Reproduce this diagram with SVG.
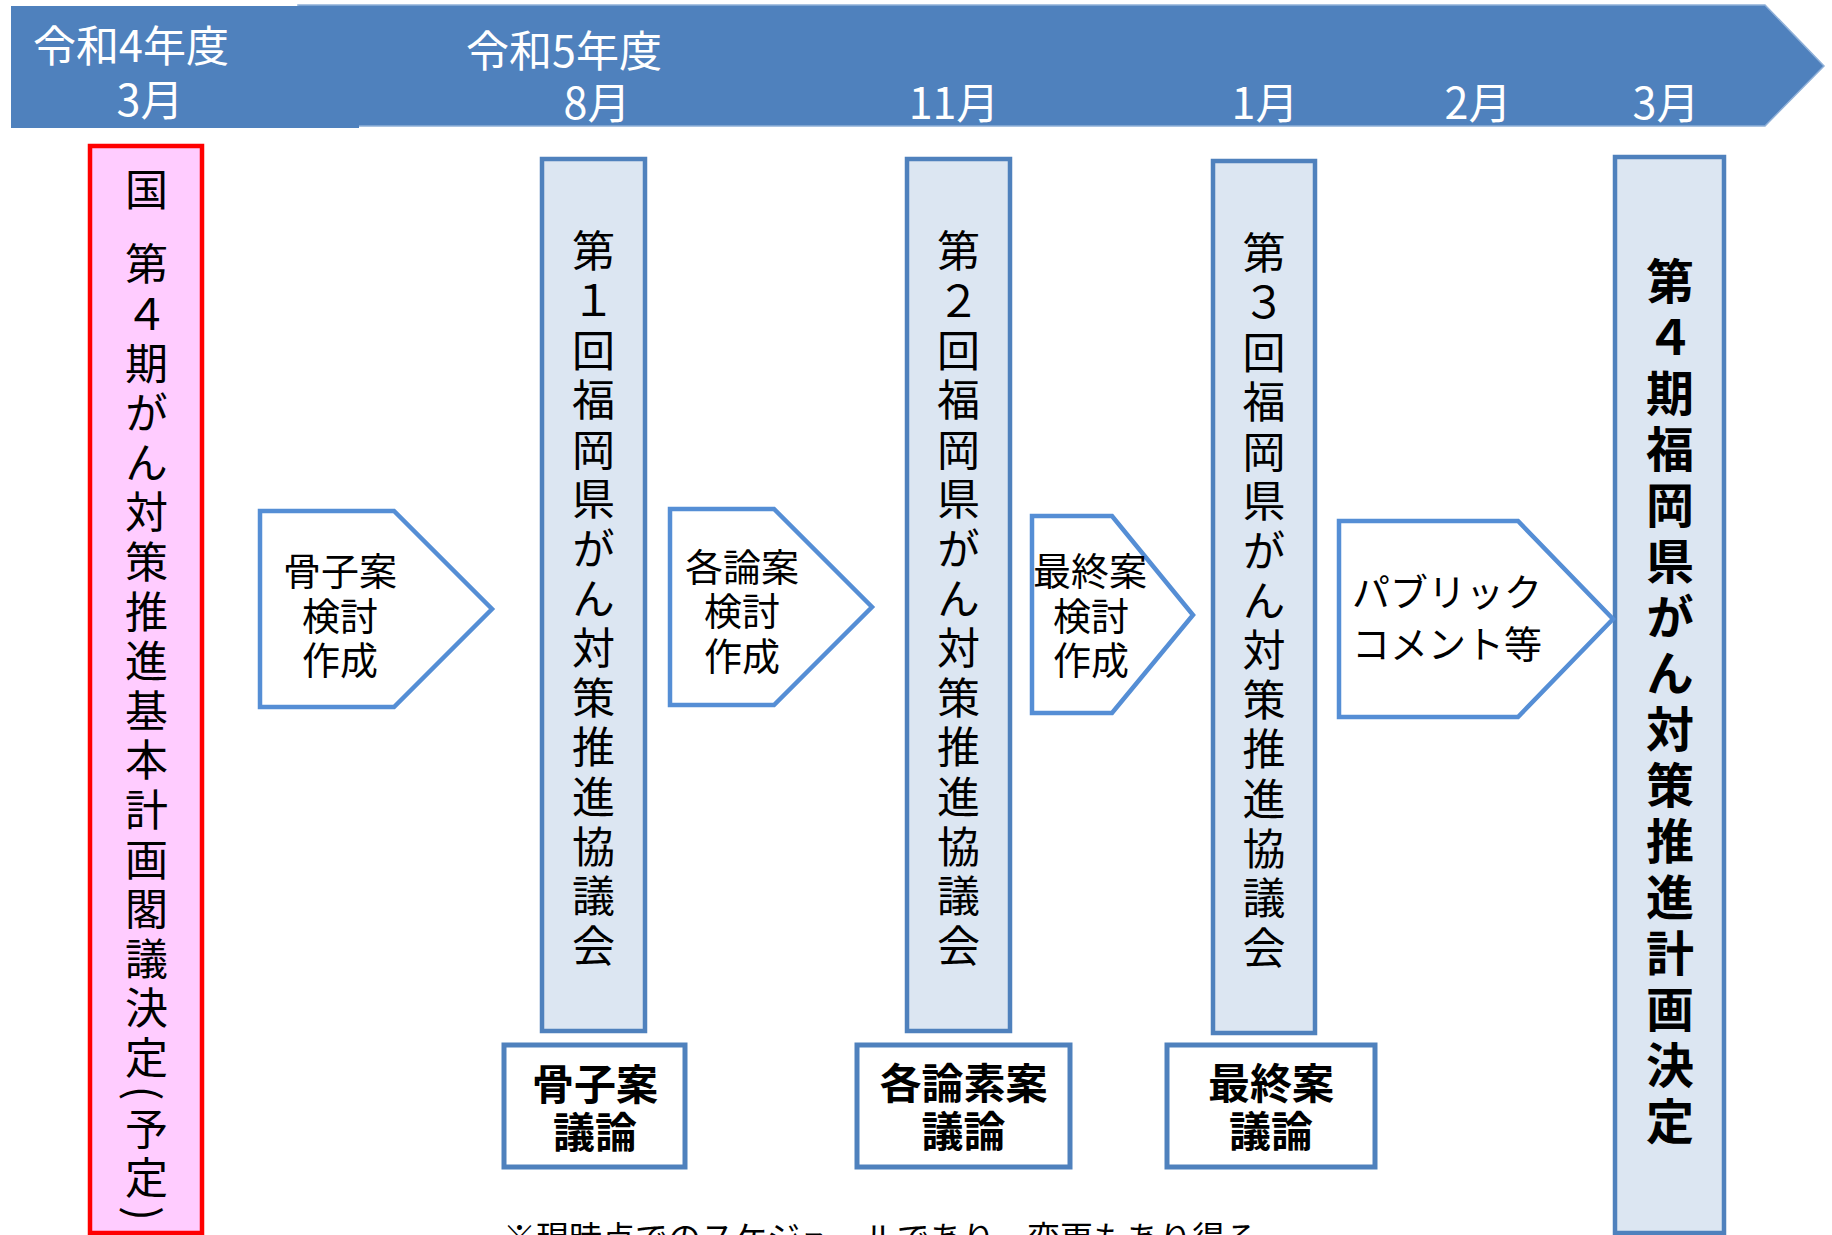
<svg xmlns="http://www.w3.org/2000/svg" width="1832" height="1235" viewBox="0 0 1832 1235">
<style>
.jp{font-family:"Noto Sans CJK JP","Noto Sans CJK SC",sans-serif;}
.ban{fill:#FFFFFF;font-size:43px;text-anchor:middle;}
.vt{writing-mode:vertical-rl;font-size:43px;letter-spacing:6.6px;fill:#000;}
.vtb{writing-mode:vertical-rl;font-size:48px;font-weight:bold;letter-spacing:8px;fill:#000;}
.col{fill:#DCE6F2;stroke:#4F81BD;stroke-width:4.5;}
.arr{fill:#FFFFFF;stroke:#558ED5;stroke-width:4.5;stroke-linejoin:miter;}
.box{fill:#FFFFFF;stroke:#4F81BD;stroke-width:5;}
.at{font-size:38px;fill:#000;text-anchor:middle;}
.bt{font-size:42px;font-weight:bold;fill:#000;text-anchor:middle;}
</style>
<rect width="1832" height="1235" fill="#FFFFFF"/>
<g id="timeline">
<path d="M298,5 L1765,5 L1824,66 L1765,126 L298,126 Z" fill="#4F81BD" stroke="#8FB0D8" stroke-width="1.5"/>
<rect x="11" y="6" width="348" height="122" fill="#4F81BD"/>
<text class="jp ban" x="131" y="62">令和4年度</text>
<text class="jp ban" x="150" y="116">3月</text>
<text class="jp ban" x="564" y="67">令和5年度</text>
<text class="jp ban" x="597" y="119">8月</text>
<text class="jp ban" x="954" y="119">11月</text>
<text class="jp ban" x="1265" y="119">1月</text>
<text class="jp ban" x="1478" y="119">2月</text>
<text class="jp ban" x="1666" y="119">3月</text>
</g>
<g id="national-plan">
<rect x="90" y="146" width="112" height="1087" fill="#FFCCFF" stroke="#FF0000" stroke-width="4.5"/>
<text class="jp vt" x="146.5" y="168.5"><tspan>国 </tspan><tspan y="242.5">第４期がん対策推進基本計画閣議決定(予定)</tspan></text>
</g>
<g id="meeting1">
<rect class="col" x="542" y="159" width="103" height="872"/>
<text class="jp vt" x="593.5" y="229.5">第１回福岡県がん対策推進協議会</text>
</g>
<g id="meeting2">
<rect class="col" x="907" y="159" width="103" height="872"/>
<text class="jp vt" x="958.5" y="229.5">第２回福岡県がん対策推進協議会</text>
</g>
<g id="meeting3">
<rect class="col" x="1213" y="161" width="102" height="872"/>
<text class="jp vt" x="1264" y="231.5">第３回福岡県がん対策推進協議会</text>
</g>
<g id="final-plan">
<rect class="col" x="1615" y="157" width="109" height="1076"/>
<text class="jp vtb" x="1670" y="257">第４期福岡県がん対策推進計画決定</text>
</g>
<g id="step1">
<polygon class="arr" points="260,511 394,511 492,609 394,707 260,707"/>
<text class="jp at" x="340" y="585">骨子案</text>
<text class="jp at" x="340" y="630">検討</text>
<text class="jp at" x="340" y="674">作成</text>
</g>
<g id="step2">
<polygon class="arr" points="670,509 774,509 872,607 774,705 670,705"/>
<text class="jp at" x="742" y="581">各論案</text>
<text class="jp at" x="742" y="625">検討</text>
<text class="jp at" x="742" y="670">作成</text>
</g>
<g id="step3">
<polygon class="arr" points="1032,516 1112,516 1193,615 1112,713 1032,713"/>
<text class="jp at" x="1090" y="585">最終案</text>
<text class="jp at" x="1091" y="630">検討</text>
<text class="jp at" x="1091" y="674">作成</text>
</g>
<g id="step4">
<polygon class="arr" points="1339,521 1518,521 1613,619 1518,717 1339,717"/>
<text class="jp" x="1352" y="606" font-size="38" fill="#000">パブリック</text>
<text class="jp" x="1352" y="658" font-size="38" fill="#000">コメント等</text>
</g>
<g id="discussion1">
<rect class="box" x="504" y="1045" width="181" height="122"/>
<text class="jp bt" x="595" y="1100">骨子案</text>
<text class="jp bt" x="595" y="1148">議論</text>
</g>
<g id="discussion2">
<rect class="box" x="857" y="1045" width="213" height="122"/>
<text class="jp bt" x="963.5" y="1099">各論素案</text>
<text class="jp bt" x="963.5" y="1147">議論</text>
</g>
<g id="discussion3">
<rect class="box" x="1167" y="1045" width="208" height="122"/>
<text class="jp bt" x="1271" y="1099">最終案</text>
<text class="jp bt" x="1271" y="1147">議論</text>
</g>
<g id="connectors"></g>
<text class="jp" x="503" y="1250" font-size="33" fill="#000">※現時点でのスケジュールであり、変更もあり得る</text>
</svg>
